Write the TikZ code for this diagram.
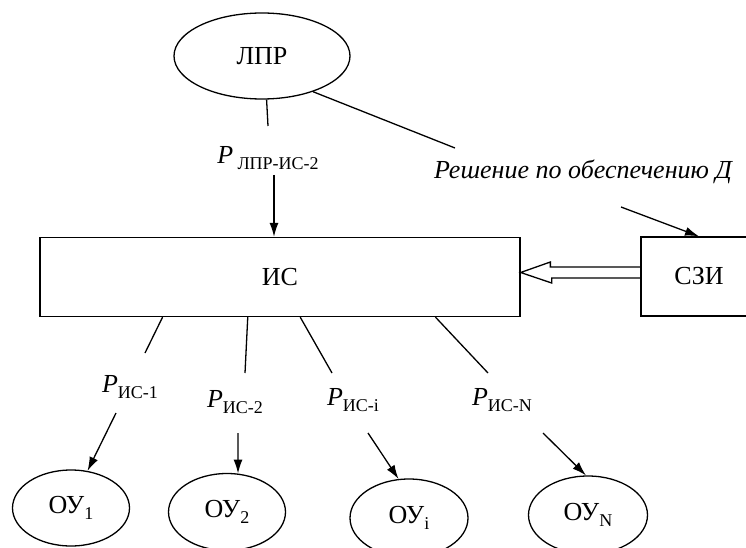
\documentclass[tikz,border=0pt]{standalone}
\usepackage{fontspec}
\setmainfont{Liberation Serif}
\usepackage{tikz}
\usetikzlibrary{positioning,arrows.meta,calc,shapes.geometric}
\newcommand{\lowsub}[1]{\raisebox{-6pt}{\fontsize{18}{18}\selectfont #1}}
\newcommand{\plbl}[1]{{\itshape P}\lowsub{#1}}
\tikzset{
    ell/.style={
        ellipse,
        draw,
        line width=1.3pt,
        inner sep=0pt,
        font=\fontsize{26}{30}\selectfont
    },
    blk/.style={
        rectangle,
        draw,
        line width=1.3pt,
        inner sep=0pt,
        minimum height=79pt,
        font=\fontsize{26}{30}\selectfont
    },
    lbl/.style={inner sep=1pt,font=\fontsize{26}{30}\selectfont},
    ln/.style={line width=1.3pt},
    arr/.style={->,line width=1.3pt,>={Latex[length=14pt,width=9pt]}}
}
\begin{document}
\begin{tikzpicture}[x=1pt,y=1pt]
\useasboundingbox (0,0) rectangle (746,-548);
% nodes
\node[ell,minimum width=176pt,minimum height=86pt] (lpr) at (262,-56) {ЛПР};
\node[blk,minimum width=480pt] (is) at (280,-277) {ИС};
\node[blk,minimum width=116pt] (szi) at (699,-276.5) {СЗИ};
\node[lbl] (p0) at (268,-158) {{\itshape P}\,\lowsub{ЛПР-ИС-2}};
\node[lbl,font=\fontsize{26}{30}\itshape] (dec) at (583,-172) {Решение по обеспечению Д};
\node[lbl] (p1) at (130,-387) {\plbl{ИС-1}};
\node[lbl] (p2) at (235,-402) {\plbl{ИС-2}};
\node[lbl] (pi) at (353,-400) {\plbl{ИС-i}};
\node[lbl] (pN) at (502,-400) {\plbl{ИС-N}};
\node[ell,minimum width=117pt,minimum height=76pt] (oy1) at (71,-508) {ОУ\lowsub{1}};
\node[ell,minimum width=117pt,minimum height=77pt] (oy2) at (227,-512) {ОУ\lowsub{2}};
\node[ell,minimum width=118pt,minimum height=78pt] (oyi) at (409,-518) {ОУ\lowsub{i}};
\node[ell,minimum width=119pt,minimum height=78pt] (oyN) at (588,-515) {ОУ\lowsub{N}};
% free ends
\coordinate (e0) at (268,-126);
\coordinate (a0) at (274,-175);
\coordinate (ed) at (455,-148);
\coordinate (ad) at (621,-207);
\coordinate (e1) at (145,-353);
\coordinate (e2) at (245,-373);
\coordinate (ei) at (332,-373);
\coordinate (eN) at (488,-373);
\coordinate (a1) at (116,-413);
\coordinate (a2) at (238,-433);
\coordinate (ai) at (368,-433);
\coordinate (aN) at (543,-433);
% connectors
\draw[ln] (lpr.-84) -- (e0);
\draw[arr] (a0) -- (a0 |- is.north);
\draw[ln] (lpr.-35) -- (ed);
\draw[arr] (ad) -- (szi.north);
\draw[ln] ($(szi.west)+(0,9.5)$) -- ++(-90,0) -- ++(0,5) -- ($(is.east)+(0,4.5)$)
    -- ++(31,-10.5) -- ++(0,5) -- ($(szi.west)+(0,-1.5)$);
\draw[ln] ($(is.south west)!.256!(is.south east)$) -- (e1);
\draw[ln] ($(is.south west)!.433!(is.south east)$) -- (e2);
\draw[ln] ($(is.south west)!.542!(is.south east)$) -- (ei);
\draw[ln] ($(is.south west)!.823!(is.south east)$) -- (eN);
\draw[arr] (a1) -- (oy1.66);
\draw[arr] (a2) -- (oy2.74);
\draw[arr] (ai) -- (oyi.105);
\draw[arr] (aN) -- (oyN.93);
\end{tikzpicture}
\end{document}
